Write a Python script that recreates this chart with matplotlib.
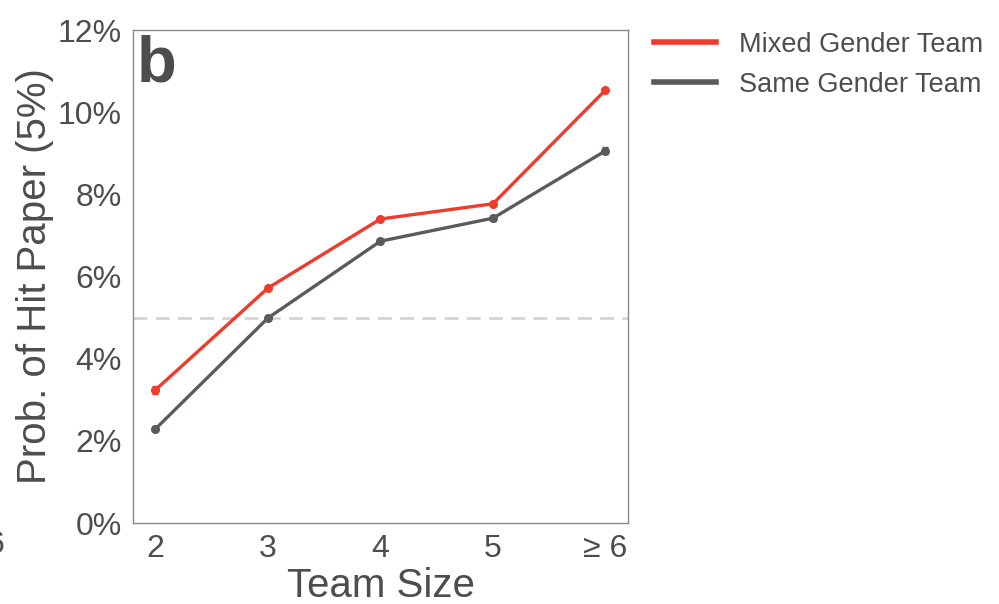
import numpy as np
import matplotlib
matplotlib.use('Agg')
import matplotlib.pyplot as plt

plt.rcParams['font.family'] = ['Liberation Sans', 'DejaVu Sans']

# team size categories and hit-paper probabilities (%)
team_size = ['2', '3', '4', '5', '≥ 6']
mixed = [3.24, 5.72, 7.40, 7.77, 10.54]
mixed_err = [0.10, 0.06, 0.05, 0.05, 0.05]
same = [2.29, 4.99, 6.86, 7.42, 9.06]
same_err = [0.06, 0.05, 0.06, 0.08, 0.09]
baseline = 5.0

txt_color = '#4d4d4d'
red = '#ee3b2c'
gray = '#5e5a5b'

fig = plt.figure(figsize=(9.99, 6.04), dpi=100)
ax = fig.add_axes([0.1331, 0.1341, 0.4955, 0.8162])

x = np.arange(2, 7)
ax.axhline(baseline, color='#d4d4d4', lw=2, ls=(0, (5, 3)), zorder=1)
ax.errorbar(x, mixed, yerr=mixed_err, color=red, lw=2.4, marker='o', ms=5.5,
            capsize=2.5, label='Mixed Gender Team', zorder=3)
ax.errorbar(x, same, yerr=same_err, color=gray, lw=2.4, marker='o', ms=5.5,
            capsize=2.5, label='Same Gender Team', zorder=2)

ax.set_xlim(1.8, 6.2)
ax.set_ylim(0, 12)
ax.set_xticks(x)
ax.set_xticklabels(team_size)
ax.set_yticks(np.arange(0, 13, 2))
ax.set_yticklabels(['%d%%' % v for v in range(0, 13, 2)])
ax.tick_params(length=0, labelsize=23, colors=txt_color, pad=8)
for s in ax.spines.values():
    s.set_color('#8a8a8a')
    s.set_linewidth(1)

ax.set_xlabel('Team Size', fontsize=29, color=txt_color, labelpad=2)
ax.set_ylabel('Prob. of Hit Paper (5%)', fontsize=29, color=txt_color, labelpad=3)
ax.text(0.008, 0.99, 'b', transform=ax.transAxes, fontsize=47, fontweight='bold',
        color=txt_color, va='top', ha='left')

handles = [plt.Line2D([], [], color=red, lw=4), plt.Line2D([], [], color=gray, lw=4)]
fig.legend(handles, ['Mixed Gender Team', 'Same Gender Team'], loc='upper left',
           bbox_to_anchor=(0.63, 0.988), frameon=False, fontsize=19.5,
           handlelength=2.3, handletextpad=0.85, labelspacing=0.52, labelcolor=txt_color)

# edge of neighbouring panel's last tick
fig.text(4 / 999, 1 - 545 / 604, '6', fontsize=23, color=txt_color, ha='right', va='center')

fig.savefig('out.png', dpi=100)
